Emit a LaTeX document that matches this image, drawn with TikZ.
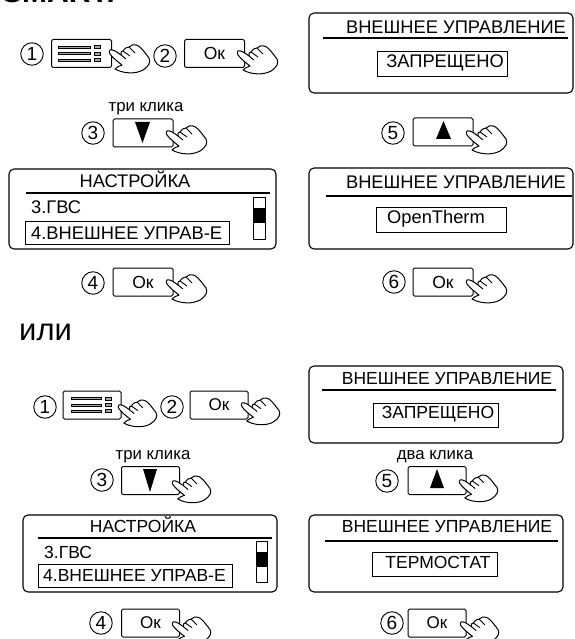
\documentclass[tikz,border=0pt]{standalone}
\usepackage{fontspec}
\setmainfont{Liberation Sans}
\usetikzlibrary{positioning}
\tikzset{
    btn/.style={draw,rounded corners=1.5pt,line width=1pt,minimum width=60pt,minimum height=28pt,inner sep=0pt,font=\fontsize{17.5}{17.5}\selectfont},
    btnlow/.style={btn,minimum width=58pt,font=\fontsize{17}{17}\selectfont},
    num/.style={draw,circle,line width=.9pt,minimum size=22.5pt,inner sep=0pt,font=\fontsize{19}{19}\selectfont},
    screen/.style={draw,rounded corners=5pt,line width=1.1pt,inner sep=0pt},
    selbox/.style={draw,line width=1pt,inner sep=0pt},
    lcd/.style={inner sep=0pt,font=\fontsize{18.3}{18.3}\selectfont},
    lcdlow/.style={inner sep=0pt,font=\fontsize{17.5}{17.5}\selectfont},
    clicks/.style={inner sep=0pt,font=\fontsize{16.8}{16.8}\selectfont},
    hand/.pic={
        \draw[fill=white,line width=1pt,line join=round]
            (0,0) .. controls (3,-1) and (7,2) .. (11,5)
            .. controls (11,2) and (11,1) .. (13,1)
            .. controls (15,-2) and (17,-3) .. (19,-3)
            .. controls (21,-5) and (24,-6) .. (26,-5)
            .. controls (29,-5) and (33,0) .. (39,8)
            .. controls (41,12) and (39,16) .. (33,20)
            .. controls (26,24) and (14,24) .. (5,19)
            .. controls (7,17) and (9,16) .. (12,15)
            .. controls (8,12) and (3,8) .. (0,4)
            .. controls (-1,3) and (-1,1) .. (0,0) -- cycle;
        \draw[line width=.9pt] (11,5) -- (16,9) (13,1) -- (20,6) (19,-3) -- (25,3);
    },
    menuicon/.pic={
        \foreach \y in {-6.5,0,6.5}{
            \draw[fill=gray!70,line width=.8pt] (0,\y-1) rectangle (32,\y+1);
            \draw[fill=gray!70,line width=.8pt] (36,\y-1.5) rectangle (42,\y+1.5);
        }
    }
}

\begin{document}
\begin{tikzpicture}[x=1pt,y=-1pt]
    \useasboundingbox (0,0) rectangle (574,639);
    \node[anchor=base west,inner sep=0pt,font=\bfseries\fontsize{30}{30}\selectfont] (mode) at (2,3) {SMART:};
    \node[anchor=west,inner sep=0pt,font=\fontsize{31}{31}\selectfont] (ili) at (19,332) {или};

    % upper left
    \node[num] (a1) at (32,54) {1};
    \node[btn] (ba1) at (81.5,53.5) {};
    \pic[xshift=-23pt] at (ba1.center) {menuicon};
    \pic at (110,50) {hand};
    \node[num] (a2) at (165,56) {2};
    \node[btn] (ba2) at (214.5,53.5) {Ок};
    \pic at (238,51) {hand};
    \node[clicks] (ta3) at (146,109) {три клика};
    \node[num] (a3) at (93,133) {3};
    \node[btn] (ba3) at (143,133) {};
    \fill (135,122) -- (150,122) -- (142.5,143) -- cycle;
    \pic at (167,131) {hand};
    \node[screen,minimum width=267pt,minimum height=80pt] (sa) at (142.5,209) {};
    \draw[line width=2.8pt] (26,193) -- (270,193);
    \node[lcd] (sat) at (135,179) {НАСТРОЙКА};
    \node[lcd,anchor=west] (sa3) at (31,207) {3.ГВС};
    \node[selbox,minimum width=204pt,minimum height=23pt] (sa4box) at (127,232.5) {};
    \node[lcd,anchor=west] (sa4) at (31,233) {4.ВНЕШНЕЕ УПРАВ-Е};
    \draw[line width=1pt] (253,197) rectangle (265,239);
    \fill (253,208) rectangle (265,223);
    \node[num] (a4) at (93,283) {4};
    \node[btn] (ba4) at (143,282) {Ок};
    \pic at (167,280) {hand};

    % upper right
    \node[screen,minimum width=264pt,minimum height=80pt] (sb) at (441,53) {};
    \draw[line width=2.2pt] (323,38) -- (568,38);
    \node[lcd] (sbt) at (456,27) {ВНЕШНЕЕ УПРАВЛЕНИЕ};
    \node[selbox,minimum width=130pt,minimum height=25pt] (sbbox) at (442,64.5) {};
    \node[lcd] (sbv) at (445,63) {ЗАПРЕЩЕНО};
    \node[num] (b5) at (393,133) {5};
    \node[btn] (bb5) at (443,132) {};
    \fill (443.5,121) -- (451,139) -- (436,139) -- cycle;
    \pic at (467,131) {hand};
    \node[screen,minimum width=264pt,minimum height=81pt] (sc) at (441,208.5) {};
    \draw[line width=2.6pt] (326,196) -- (572,196);
    \node[lcd] (sct) at (456,182) {ВНЕШНЕЕ УПРАВЛЕНИЕ};
    \node[selbox,minimum width=130pt,minimum height=25pt] (scbox) at (441,219.5) {};
    \node[lcd] (scv) at (436,219) {OpenTherm};
    \node[num] (b6) at (394,282) {6};
    \node[btn] (bb6) at (443,282) {Ок};
    \pic at (467,280) {hand};

    % lower left
    \node[num] (c1) at (45,407) {1};
    \node[btnlow] (bc1) at (92,405) {};
    \pic[xshift=-21pt,scale=.95] at (bc1.center) {menuicon};
    \pic[scale=.95] at (119,405) {hand};
    \node[num] (c2) at (172,407) {2};
    \node[btnlow] (bc2) at (219,405) {Ок};
    \pic[scale=.95] at (242,403) {hand};
    \node[clicks] (tc3) at (153,457) {три клика};
    \node[num] (c3) at (102,480) {3};
    \node[btnlow] (bc3) at (150.5,480.5) {};
    \fill (143,469) -- (157,469) -- (150,492) -- cycle;
    \pic[scale=.95] at (173,481) {hand};
    \node[screen,minimum width=254pt,minimum height=77pt] (sd) at (150,553.5) {};
    \draw[line width=2.6pt] (38,538) -- (272,538);
    \node[lcdlow] (sdt) at (143,525) {НАСТРОЙКА};
    \node[lcdlow,anchor=west] (sd3) at (44,552) {3.ГВС};
    \node[selbox,minimum width=194pt,minimum height=23pt] (sd4box) at (135,575.5) {};
    \node[lcdlow,anchor=west] (sd4) at (43,576) {4.ВНЕШНЕЕ УПРАВ-Е};
    \draw[line width=1pt] (256,541) rectangle (267,582);
    \fill (256,552) rectangle (267,567);
    \node[num] (c4) at (101,623) {4};
    \node[btnlow] (bc4) at (150.5,623) {Ок};
    \pic[scale=.95] at (173,622) {hand};

    % lower right
    \node[screen,minimum width=254pt,minimum height=77pt] (se) at (436,404.5) {};
    \draw[line width=2.2pt] (322,390) -- (556,390);
    \node[lcdlow] (set) at (447,379) {ВНЕШНЕЕ УПРАВЛЕНИЕ};
    \node[selbox,minimum width=125pt,minimum height=24pt] (sebox) at (435.5,415) {};
    \node[lcdlow] (sev) at (438,414) {ЗАПРЕЩЕНО};
    \node[clicks] (td5) at (435,457) {два клика};
    \node[num] (d5) at (387,481) {5};
    \node[btnlow] (bd5) at (437,480.5) {};
    \fill (437,469) -- (444,488) -- (430,488) -- cycle;
    \pic[scale=.95] at (460,480) {hand};
    \node[screen,minimum width=254pt,minimum height=77pt] (sf) at (436,553.5) {};
    \draw[line width=2.6pt] (325,541) -- (558,541);
    \node[lcdlow] (sft) at (447,527) {ВНЕШНЕЕ УПРАВЛЕНИЕ};
    \node[selbox,minimum width=125pt,minimum height=24pt] (sfbox) at (434.5,564) {};
    \node[lcdlow] (sfv) at (438,562) {ТЕРМОСТАТ};
    \node[num] (d6) at (392,623) {6};
    \node[btnlow] (bd6) at (437,623) {Ок};
    \pic[scale=.95] at (461,622) {hand};
\end{tikzpicture}
\end{document}
